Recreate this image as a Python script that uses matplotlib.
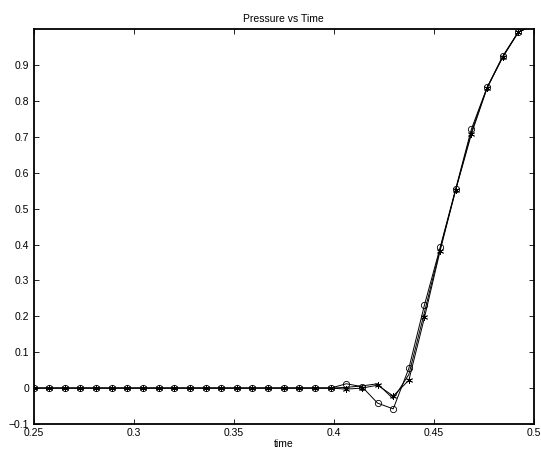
import numpy as np
import matplotlib.pyplot as plt

plt.rcParams['font.family'] = ['Liberation Sans', 'DejaVu Sans']

# sample times: 0.25 .. 0.5 in steps of 1/128
time = 0.25 + np.arange(33) / 128.0

flat = [0.0] * 20
p_circle = flat + [0.012, 0.004, -0.042, -0.058, 0.055, 0.232, 0.392, 0.556, 0.722, 0.838, 0.925, 0.993, 1.012]
p_star = flat + [-0.003, 0.0, 0.008, -0.022, 0.022, 0.197, 0.383, 0.553, 0.708, 0.836, 0.922, 0.992, 1.012]
p_plain = flat + [0.002, 0.006, 0.012, -0.03, 0.038, 0.212, 0.388, 0.554, 0.714, 0.837, 0.923, 0.992, 1.012]

fig = plt.figure(figsize=(5.41, 4.51), dpi=100)
ax = fig.add_axes([0.062, 0.060, 0.925, 0.875])

ax.plot(time, p_plain, '-', color='k', lw=0.7)
ax.plot(time, p_circle, '-', color='k', lw=0.7, marker='o', ms=4.5,
        mfc='none', mec='k', mew=0.6)
ax.plot(time, p_star, '-', color='k', lw=0.7, marker=(6, 2, 0), ms=5,
        mec='k', mew=0.6)

ax.set_xlim(0.25, 0.5)
ax.set_ylim(-0.1, 1.0)
ax.set_xticks([0.25, 0.3, 0.35, 0.4, 0.45, 0.5])
ax.set_xticklabels(['0.25', '0.3', '0.35', '0.4', '0.45', '0.5'])
ax.set_yticks(np.round(np.arange(-0.1, 0.95, 0.1), 1))
ax.set_yticklabels(['\u22120.1', '0', '0.1', '0.2', '0.3', '0.4', '0.5', '0.6', '0.7', '0.8', '0.9'])
ax.tick_params(direction='in', length=3.5, width=0.6, labelsize=7.5,
               top=True, right=True, pad=3)
for s in ax.spines.values():
    s.set_linewidth(1.3)

ax.set_title('Pressure vs Time', fontsize=7.5, pad=5)
ax.set_xlabel('time', fontsize=7.5, labelpad=1)

fig.savefig('out.png', dpi=100)
